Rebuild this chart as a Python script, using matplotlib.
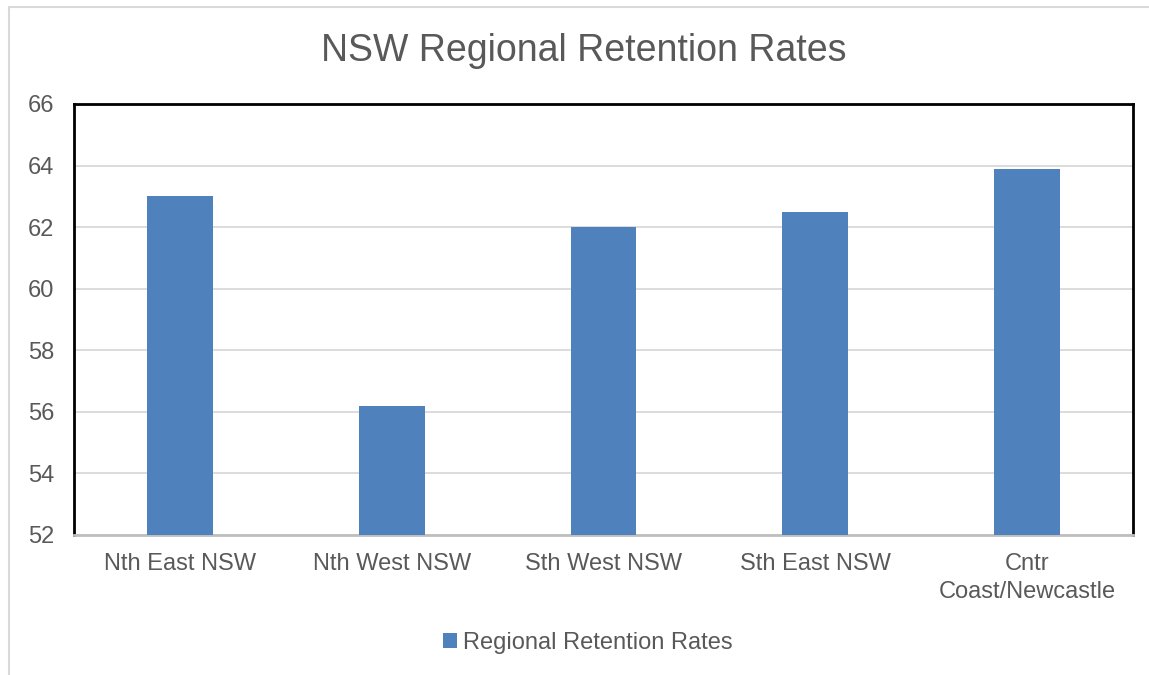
import matplotlib
matplotlib.use("Agg")
import matplotlib.pyplot as plt
from matplotlib.patches import Rectangle, Patch

categories = ["Nth East NSW", "Nth West NSW", "Sth West NSW", "Sth East NSW", "Cntr\nCoast/Newcastle"]
values = [63.0, 56.2, 62.0, 62.5, 63.9]
series_name = "Regional Retention Rates"
yticks = [52, 54, 56, 58, 60, 62, 64, 66]

plt.rcParams['font.family'] = ['Liberation Sans', 'DejaVu Sans']
txt = '#595959'
bar_color = '#4F81BD'

fig = plt.figure(figsize=(11.49, 6.75), dpi=100)
ax = fig.add_axes([74/1149, 1-535/675, (1133-74)/1149, (535-104)/675])

x = list(range(len(categories)))
ax.bar(x, [v - 52 for v in values], bottom=52, width=0.31, color=bar_color, zorder=3)
ax.set_xlim(-0.5, len(categories) - 0.5)
ax.set_ylim(52, 66)
ax.set_yticks(yticks)
ax.set_yticklabels([str(t) for t in yticks], fontsize=17, color=txt)
ax.set_xticks(x)
ax.set_xticklabels(categories, fontsize=17, color=txt, linespacing=1.35)
ax.tick_params(axis='both', length=0)
ax.tick_params(axis='y', pad=14)
ax.tick_params(axis='x', pad=13)
ax.yaxis.grid(True, color='#D9D9D9', linewidth=1.3, zorder=0)
ax.set_axisbelow(True)
for s in ['top', 'left', 'right']:
    ax.spines[s].set_color('black')
    ax.spines[s].set_linewidth(2)
ax.spines['bottom'].set_color('#BFBFBF')
ax.spines['bottom'].set_linewidth(2)

fig.text(584/1149, 1-51/675, "NSW Regional Retention Rates", fontsize=27, color=txt,
         ha='center', va='center')

handle = Patch(facecolor=bar_color, edgecolor='none')
fig.legend([handle], [series_name], loc='center', bbox_to_anchor=(588/1149, 1-643/675),
           frameon=False, fontsize=17, labelcolor=txt, handlelength=0.6, handleheight=0.6,
           handletextpad=0.25)

fig.patches.append(Rectangle((9/1149, -0.2), 1.2, 1.2 - 7/675, transform=fig.transFigure,
                             fill=False, edgecolor='#D9D9D9', linewidth=1.5))

fig.savefig("out.png", dpi=100)
